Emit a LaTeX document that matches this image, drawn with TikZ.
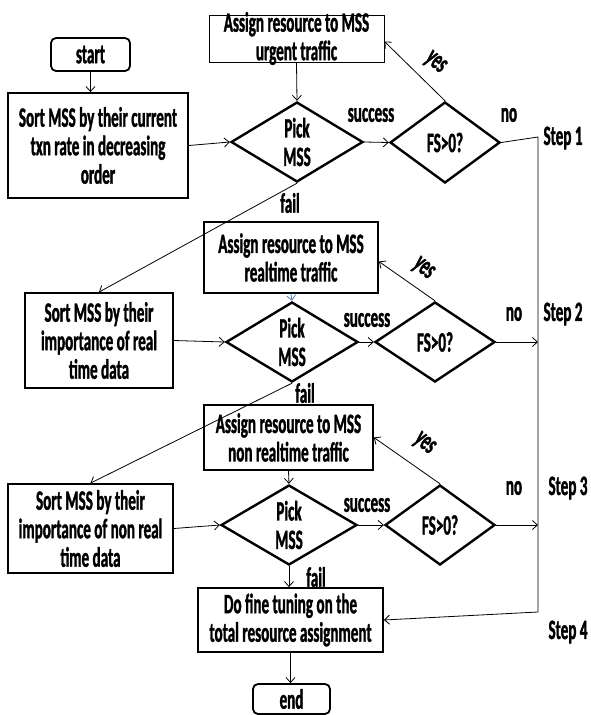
\documentclass[tikz,border=0pt]{standalone}
\usepackage{fontspec}
\newfontfamily\cf{Carlito}[FakeStretch=0.54,FakeBold=1.2]
\usetikzlibrary{shapes.geometric,arrows.meta}
\tikzset{
  box/.style={draw, rectangle, line width=1.8pt, inner sep=0pt},
  thinbox/.style={draw, rectangle, line width=1pt, inner sep=0pt},
  term/.style={draw, rectangle, rounded corners=5pt, line width=1.8pt, inner sep=0pt},
  dia/.style={draw, diamond, line width=2.4pt, inner sep=0pt},
  txt/.style={align=center, inner sep=0pt, font=\fontsize{28}{28.5}\cf\bfseries\selectfont},
  lbl/.style={inner sep=0pt, font=\fontsize{28}{28.5}\cf\bfseries\selectfont},
  ln/.style={line width=0.8pt},
  arr/.style={line width=0.8pt, -{Straight Barb[length=5pt,width=9pt]}},
}
\begin{document}
\begin{tikzpicture}[x=1pt,y=-1pt]
\useasboundingbox (0,0) rectangle (590,715);
% boxes
\node[term, minimum width=79pt, minimum height=33pt] (st) at (90.5,54.5) {};
\node[txt] (stt) at (st) {start};
\node[box, minimum width=180pt, minimum height=105pt] (s1) at (98,145.5) {};
\node[txt] (s1t) at (s1) {Sort MSS by their current\\txn rate in decreasing\\order};
\node[thinbox, minimum width=175pt, minimum height=47pt] (a1) at (296.5,38.5) {};
\node[txt] (a1t) at (a1) {Assign resource to MSS\\urgent traffic};
\node[dia, minimum width=132pt, minimum height=80pt] (p1) at (297,142) {};
\node[txt] (p1t) at (p1) {Pick\\MSS};
\node[dia, minimum width=110pt, minimum height=81pt] (f1) at (445,142.5) {};
\node[txt] (f1t) at (f1) {FS>0?};

\node[box, minimum width=174pt, minimum height=71pt] (a2) at (291,257.5) {};
\node[txt] (a2t) at (a2) {Assign resource to MSS\\realtime traffic};
\node[box, minimum width=148pt, minimum height=95pt] (s2) at (99,340.5) {};
\node[txt] (s2t) at (s2) {Sort MSS by their\\importance of real\\time data};
\node[dia, minimum width=132pt, minimum height=80pt] (p2) at (292,342) {};
\node[txt] (p2t) at (p2) {Pick\\MSS};
\node[dia, minimum width=120pt, minimum height=80pt] (f2) at (435,342) {};
\node[txt] (f2t) at (f2) {FS>0?};

\node[box, minimum width=169pt, minimum height=65pt] (a3) at (288.5,437.5) {};
\node[txt] (a3t) at (a3) {Assign resource to MSS\\non realtime traffic};
\node[box, minimum width=165pt, minimum height=89pt] (s3) at (90.5,528.5) {};
\node[txt] (s3t) at (s3) {Sort MSS by their\\importance of non real\\time data};
\node[dia, minimum width=136pt, minimum height=80pt] (p3) at (289,525) {};
\node[txt] (p3t) at (p3) {Pick\\MSS};
\node[dia, minimum width=110pt, minimum height=80pt] (f3) at (440,525) {};
\node[txt] (f3t) at (f3) {FS>0?};

\node[box, minimum width=185pt, minimum height=64pt] (fi) at (290.5,620) {};
\node[txt] (fit) at (fi) {Do fine tuning on the\\total resource assignment};
\node[term, minimum width=77pt, minimum height=30pt] (en) at (291.5,699) {};
\node[txt] (ent) at (en) {end};

% right collector line
\coordinate (c1) at (538,137);
\coordinate (c2) at (538,342);
\coordinate (c3) at (538,525);
\coordinate (c4) at (538,612);

% connectors
\draw[arr] (st.south) -- (st.south |- s1.north);
\draw[arr] (s1.east) -- (p1.west);
\draw[arr] (a1.south) -- (p1.north);
\draw[arr] (p1.east) -- (f1.west);
\draw[arr] (f1.north) -- ([yshift=-3pt]a1.east);
\draw[ln] (f1.east) -- (c1) -- (c4);
\draw[arr] (c4) -- (fi.east);
\draw[arr] (p1.south) -- (s2.north);

\draw[arr, draw={rgb,255:red,70;green,130;blue,200}] (a2.south) -- (p2.north);
\draw[arr] (s2.east) -- (p2.west);
\draw[arr] (p2.east) -- (f2.west);
\draw[arr] (f2.north) -- ([yshift=-4pt]a2.east);
\draw[arr] (f2.east) -- (c2);
\draw[arr] (p2.south) -- (s3.north);

\draw[arr] (a3.south) -- (p3.north);
\draw[arr] (s3.east) -- (p3.west);
\draw[arr] (p3.east) -- (f3.west);
\draw[arr] (f3.north) -- (a3.east);
\draw[arr] (f3.east) -- (c3);
\draw[arr] (p3.south) -- (p3.south |- fi.north);
\draw[arr] (fi.south) -- (fi.south |- en.north);

% labels
\node[lbl] (l1) at (371,115) {success};
\node[lbl] (l2) at (367,320) {success};
\node[lbl] (l3) at (367,505) {success};
\node[lbl] (n1) at (509,115) {no};
\node[lbl] (n2) at (514,314) {no};
\node[lbl] (n3) at (514,488) {no};
\node[lbl] (y1) at (435,63) [rotate=-40] {yes};
\node[lbl] (y2) at (423,269) [rotate=-40] {yes};
\node[lbl] (y3) at (424,444) [rotate=-40] {yes};
\node[lbl] (fl1) at (290,203) {fail};
\node[lbl] (fl2) at (305,393) {fail};
\node[lbl] (fl3) at (316,577) {fail};
\node[lbl] (t1) at (563,138) {Step 1};
\node[lbl] (t2) at (563,314) {Step 2};
\node[lbl] (t3) at (568,488) {Step 3};
\node[lbl] (t4) at (568,632) {Step 4};
\end{tikzpicture}
\end{document}
